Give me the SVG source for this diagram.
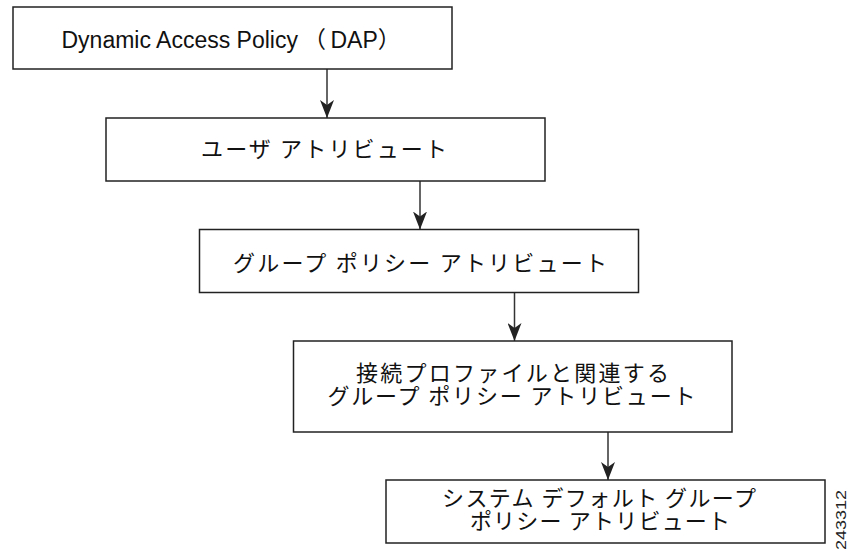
<svg xmlns="http://www.w3.org/2000/svg" width="849" height="552" viewBox="0 0 849 552">
<style>
.box{fill:#fff;stroke:#222;stroke-width:1.5}
.lbl{font-family:"Liberation Sans","Noto Sans CJK JP",sans-serif;font-size:23px;fill:#111}
.jp{font-family:"Noto Sans CJK JP","Liberation Sans",sans-serif;font-size:22px;fill:#111;text-anchor:middle}
.conn line{stroke:#333;stroke-width:1.5}
.fig{font-family:"Liberation Sans",sans-serif;font-size:14px;fill:#222}
</style>
<defs>
<marker id="ah" markerWidth="18" markerHeight="14" refX="18" refY="7" orient="auto" markerUnits="userSpaceOnUse" viewBox="0 0 18 14">
<path d="M0,0 L5,7 L0,14 L18,7 Z" fill="#222"/>
</marker>
</defs>
<rect width="849" height="552" fill="#fff"/>
<g id="connectors" class="conn">
<line x1="327" y1="69" x2="327" y2="118" marker-end="url(#ah)"/>
<line x1="420" y1="181" x2="420" y2="229.5" marker-end="url(#ah)"/>
<line x1="514.5" y1="293" x2="514.5" y2="341" marker-end="url(#ah)"/>
<line x1="608" y1="432" x2="608" y2="480" marker-end="url(#ah)"/>
</g>
<g id="dap">
<rect class="box" x="13" y="7" width="439" height="62"/>
<text class="lbl" x="61.5" y="47.5">Dynamic Access Policy<tspan x="303">（</tspan><tspan x="330.5">DAP</tspan>）</text>
</g>
<g id="user-attr">
<rect class="box" x="106" y="118" width="439" height="63"/>
<text class="jp" x="324" y="157" textLength="246" lengthAdjust="spacing">ユーザ アトリビュート</text>
</g>
<g id="group-policy">
<rect class="box" x="199.5" y="229.5" width="439" height="63"/>
<text class="jp" x="420" y="271" textLength="374" lengthAdjust="spacing">グループ ポリシー アトリビュート</text>
</g>
<g id="conn-profile">
<rect class="box" x="293.5" y="341" width="438.5" height="91"/>
<text class="jp"><tspan x="513.6" y="381" letter-spacing="2.25">接続プロファイルと関連する</tspan><tspan x="512.4" y="404" letter-spacing="1.85">グループ ポリシー アトリビュート</tspan></text>
</g>
<g id="system-default">
<rect class="box" x="386" y="480" width="439" height="63"/>
<text class="jp"><tspan x="599.7" y="506" letter-spacing="1.44">システム デフォルト グループ</tspan><tspan x="600.6" y="529" letter-spacing="1.2">ポリシー アトリビュート</tspan></text>
</g>
<text class="fig" transform="translate(846,550) rotate(-90)" textLength="60" lengthAdjust="spacingAndGlyphs">243312</text>
</svg>
